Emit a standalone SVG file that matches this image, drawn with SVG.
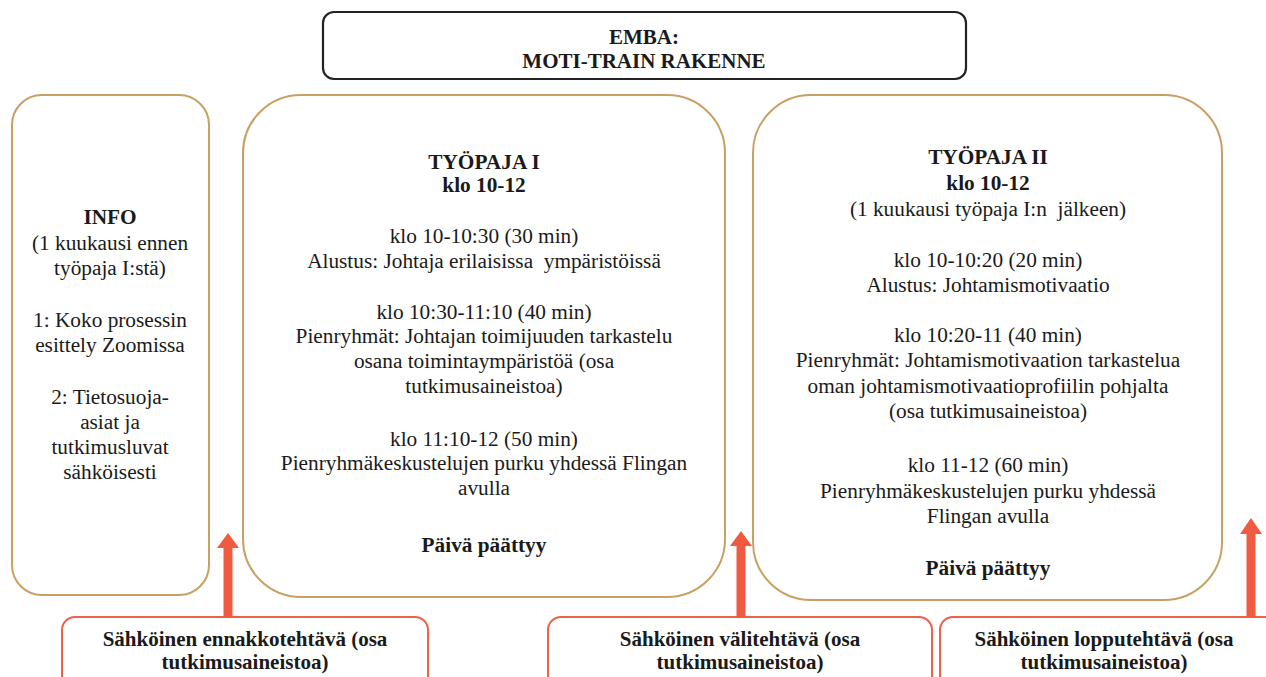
<svg xmlns="http://www.w3.org/2000/svg" width="1266" height="677" viewBox="0 0 1266 677">
<style>
.gold{fill:#fff;stroke:#C9A063;stroke-width:2}
.red{fill:#fff;stroke:#F0604A;stroke-width:2}
.title{fill:#fff;stroke:#222;stroke-width:2.2}
.arr{fill:#F05A40}
</style>
<rect width="1266" height="677" fill="#fff"/>
<g id="title" text-anchor="middle" fill="#1a1a1a" font-weight="bold" font-size="21">
<rect class="title" x="323" y="12" width="643" height="67" rx="11"/>
<text x="644" y="44" font-family="Liberation Serif" style="font-family:'Liberation Serif',serif">EMBA:</text>
<text x="644" y="68" font-family="Liberation Serif" style="font-family:'Liberation Serif',serif">MOTI-TRAIN RAKENNE</text>
</g>
<g id="info" text-anchor="middle" fill="#1a1a1a" font-size="21.3">
<rect class="gold" x="12" y="95" width="197" height="500" rx="30"/>
<text x="110" y="224" font-weight="bold" font-family="Liberation Serif" style="font-family:'Liberation Serif',serif">INFO</text>
<text x="110" y="250" font-family="Liberation Serif" style="font-family:'Liberation Serif',serif">(1 kuukausi ennen</text>
<text x="110" y="275" font-family="Liberation Serif" style="font-family:'Liberation Serif',serif">työpaja I:stä)</text>
<text x="110" y="327" font-family="Liberation Serif" style="font-family:'Liberation Serif',serif">1: Koko prosessin</text>
<text x="110" y="352" font-family="Liberation Serif" style="font-family:'Liberation Serif',serif">esittely Zoomissa</text>
<text x="110" y="404" font-family="Liberation Serif" style="font-family:'Liberation Serif',serif">2: Tietosuoja-</text>
<text x="110" y="429" font-family="Liberation Serif" style="font-family:'Liberation Serif',serif">asiat ja</text>
<text x="110" y="454" font-family="Liberation Serif" style="font-family:'Liberation Serif',serif">tutkimusluvat</text>
<text x="110" y="479" font-family="Liberation Serif" style="font-family:'Liberation Serif',serif">sähköisesti</text>
</g>
<g id="tyopaja1" text-anchor="middle" fill="#1a1a1a" font-size="21.3">
<rect class="gold" x="243" y="95" width="482" height="502" rx="58"/>
<text x="484" y="169" font-weight="bold" font-family="Liberation Serif" style="font-family:'Liberation Serif',serif">TYÖPAJA I</text>
<text x="484" y="192" font-weight="bold" font-family="Liberation Serif" style="font-family:'Liberation Serif',serif">klo 10-12</text>
<text x="484" y="243" font-family="Liberation Serif" style="font-family:'Liberation Serif',serif">klo 10-10:30 (30 min)</text>
<text x="484" y="268" font-family="Liberation Serif" style="font-family:'Liberation Serif',serif" xml:space="preserve">Alustus: Johtaja erilaisissa  ympäristöissä</text>
<text x="484" y="319" font-family="Liberation Serif" style="font-family:'Liberation Serif',serif">klo 10:30-11:10 (40 min)</text>
<text x="484" y="343" font-family="Liberation Serif" style="font-family:'Liberation Serif',serif">Pienryhmät: Johtajan toimijuuden tarkastelu</text>
<text x="484" y="368" font-family="Liberation Serif" style="font-family:'Liberation Serif',serif">osana toimintaympäristöä (osa</text>
<text x="484" y="393" font-family="Liberation Serif" style="font-family:'Liberation Serif',serif">tutkimusaineistoa)</text>
<text x="484" y="446" font-family="Liberation Serif" style="font-family:'Liberation Serif',serif">klo 11:10-12 (50 min)</text>
<text x="484" y="470" font-family="Liberation Serif" style="font-family:'Liberation Serif',serif">Pienryhmäkeskustelujen purku yhdessä Flingan</text>
<text x="484" y="495" font-family="Liberation Serif" style="font-family:'Liberation Serif',serif">avulla</text>
<text x="484" y="552" font-weight="bold" font-family="Liberation Serif" style="font-family:'Liberation Serif',serif">Päivä päättyy</text>
</g>
<g id="tyopaja2" text-anchor="middle" fill="#1a1a1a" font-size="21.3">
<rect class="gold" x="753" y="95" width="469" height="505" rx="58"/>
<text x="988" y="164" font-weight="bold" font-family="Liberation Serif" style="font-family:'Liberation Serif',serif">TYÖPAJA II</text>
<text x="988" y="190" font-weight="bold" font-family="Liberation Serif" style="font-family:'Liberation Serif',serif">klo 10-12</text>
<text x="988" y="216" font-family="Liberation Serif" style="font-family:'Liberation Serif',serif" xml:space="preserve">(1 kuukausi työpaja I:n  jälkeen)</text>
<text x="988" y="267" font-family="Liberation Serif" style="font-family:'Liberation Serif',serif">klo 10-10:20 (20 min)</text>
<text x="988" y="292" font-family="Liberation Serif" style="font-family:'Liberation Serif',serif">Alustus: Johtamismotivaatio</text>
<text x="988" y="342" font-family="Liberation Serif" style="font-family:'Liberation Serif',serif">klo 10:20-11 (40 min)</text>
<text x="988" y="367" font-family="Liberation Serif" style="font-family:'Liberation Serif',serif">Pienryhmät: Johtamismotivaation tarkastelua</text>
<text x="988" y="393" font-family="Liberation Serif" style="font-family:'Liberation Serif',serif">oman johtamismotivaatioprofiilin pohjalta</text>
<text x="988" y="418" font-family="Liberation Serif" style="font-family:'Liberation Serif',serif">(osa tutkimusaineistoa)</text>
<text x="988" y="472" font-family="Liberation Serif" style="font-family:'Liberation Serif',serif">klo 11-12 (60 min)</text>
<text x="988" y="498" font-family="Liberation Serif" style="font-family:'Liberation Serif',serif">Pienryhmäkeskustelujen purku yhdessä</text>
<text x="988" y="523" font-family="Liberation Serif" style="font-family:'Liberation Serif',serif">Flingan avulla</text>
<text x="988" y="575" font-weight="bold" font-family="Liberation Serif" style="font-family:'Liberation Serif',serif">Päivä päättyy</text>
</g>
<g id="tehtava1" text-anchor="middle" fill="#1a1a1a" font-size="21" font-weight="bold">
<rect class="red" x="62" y="617" width="366" height="80" rx="13"/>
<text x="245" y="646" font-family="Liberation Serif" style="font-family:'Liberation Serif',serif">Sähköinen ennakkotehtävä (osa</text>
<text x="245" y="669" font-family="Liberation Serif" style="font-family:'Liberation Serif',serif">tutkimusaineistoa)</text>
</g>
<g id="tehtava2" text-anchor="middle" fill="#1a1a1a" font-size="21" font-weight="bold">
<rect class="red" x="548" y="617" width="384" height="80" rx="13"/>
<text x="740" y="646" font-family="Liberation Serif" style="font-family:'Liberation Serif',serif">Sähköinen välitehtävä (osa</text>
<text x="740" y="669" font-family="Liberation Serif" style="font-family:'Liberation Serif',serif">tutkimusaineistoa)</text>
</g>
<g id="tehtava3" text-anchor="middle" fill="#1a1a1a" font-size="21" font-weight="bold">
<rect class="red" x="940" y="617" width="346" height="80" rx="13"/>
<text x="1104" y="646" font-family="Liberation Serif" style="font-family:'Liberation Serif',serif">Sähköinen lopputehtävä (osa</text>
<text x="1104" y="669" font-family="Liberation Serif" style="font-family:'Liberation Serif',serif">tutkimusaineistoa)</text>
</g>
<g id="connectors">
<path class="arr" d="M223.5,617 V548 H217 L228,533 L239,548 H232.5 V617 Z"/>
<path class="arr" d="M736.5,617 V546 H730 L741,531 L752,546 H745.5 V617 Z"/>
<path class="arr" d="M1246.5,617 V534 H1240 L1251,518 L1262,534 H1255.5 V617 Z"/>
</g>
</svg>
